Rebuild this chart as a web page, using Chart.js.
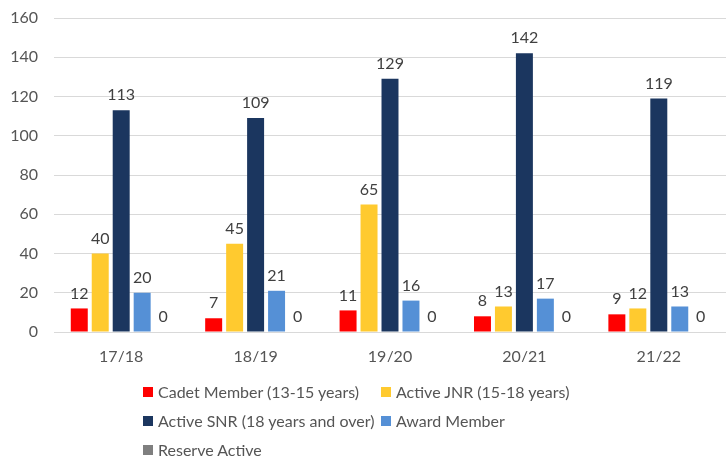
<!DOCTYPE html>
<html>
<head>
<meta charset="utf-8">
<script src="https://cdn.jsdelivr.net/npm/chart.js@4"></script>
<style>
  html, body { margin: 0; padding: 0; background: #fff; }
  #wrap { position: relative; width: 726px; height: 459px; }
  canvas { position: absolute; left: 0; top: 0; }
  #legend { position: absolute; left: 143px; top: 382px; display: grid;
    grid-template-columns: 238px auto; row-gap: 10px;
    font-family: Lato, "Open Sans", sans-serif; font-size: 16px; color: #555555; }
  .item { display: flex; align-items: center; height: 19px; white-space: nowrap; }
  .box { width: 10px; height: 10px; margin-right: 5px; flex: none; }
</style>
</head>
<body>
<div id="wrap">
  <canvas id="c" width="726" height="459"></canvas>
  <div id="legend"></div>
</div>
<script>
const categories = ['17/18', '18/19', '19/20', '20/21', '21/22'];
const seriesNames = ['Cadet Member (13-15 years)', 'Active JNR (15-18 years)', 'Active SNR (18 years and over)', 'Award Member', 'Reserve Active'];
const cadet = [12, 7, 11, 8, 9];
const activeJnr = [40, 45, 65, 13, 12];
const activeSnr = [113, 109, 129, 142, 119];
const award = [20, 21, 16, 17, 13];
const reserve = [0, 0, 0, 0, 0];
const yTicks = [0, 20, 40, 60, 80, 100, 120, 140, 160];
const colors = ['#FF0000', '#FFCA2F', '#1B365F', '#5590D6', '#7F7F7F'];

const values = [cadet, activeJnr, activeSnr, award, reserve];
const FONT = 'Lato, "Open Sans", sans-serif';

const labelPlugin = {
  id: 'barLabels',
  afterDatasetsDraw(chart) {
    const ctx = chart.ctx;
    ctx.save();
    ctx.font = '16px ' + FONT;
    ctx.fillStyle = '#404040';
    ctx.textAlign = 'center';
    ctx.textBaseline = 'middle';
    chart.data.datasets.forEach((ds, i) => {
      const meta = chart.getDatasetMeta(i);
      meta.data.forEach((bar, j) => {
        ctx.fillText(String(ds.data[j]), bar.x, bar.y - 15);
      });
    });
    ctx.restore();
  }
};

const chart = new Chart(document.getElementById('c'), {
  type: 'bar',
  data: {
    labels: categories,
    datasets: seriesNames.map((n, i) => ({
      label: n,
      data: values[i],
      backgroundColor: colors[i],
      categoryPercentage: 0.78,
      barPercentage: 0.81
    }))
  },
  options: {
    responsive: false,
    maintainAspectRatio: false,
    animation: false,
    devicePixelRatio: 1,
    layout: { autoPadding: false, padding: { top: 18, left: 0, right: 0, bottom: 97 } },
    plugins: { legend: { display: false }, tooltip: { enabled: false } },
    scales: {
      x: {
        afterFit(axis) { axis.height = 30; axis.paddingLeft = 0; axis.paddingRight = 0; axis.paddingTop = 0; axis.paddingBottom = 0; },
        grid: { display: false, drawTicks: false },
        border: { display: false },
        ticks: { color: '#555555', font: { family: FONT, size: 16 }, padding: 15 }
      },
      y: {
        min: 0, max: 160,
        afterFit(axis) { axis.width = 54; axis.paddingTop = 0; axis.paddingBottom = 0; },
        afterBuildTicks(axis) { axis.ticks = yTicks.map(v => ({ value: v })); },
        grid: { color: '#D9D9D9', lineWidth: 1, drawTicks: false },
        border: { display: false },
        ticks: { color: '#555555', font: { family: FONT, size: 16 }, padding: 16 }
      }
    }
  },
  plugins: [labelPlugin]
});

const legend = document.getElementById('legend');
chart.data.datasets.forEach(ds => {
  const it = document.createElement('div');
  it.className = 'item';
  const b = document.createElement('span');
  b.className = 'box';
  b.style.background = ds.backgroundColor;
  const t = document.createElement('span');
  t.textContent = ds.label;
  it.appendChild(b); it.appendChild(t);
  legend.appendChild(it);
});
</script>
</body>
</html>
